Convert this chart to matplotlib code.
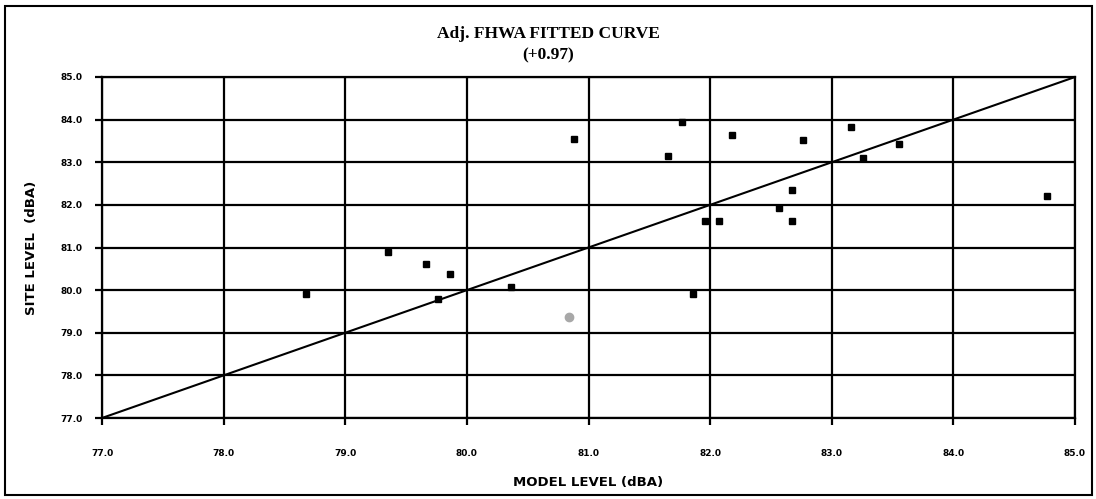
import numpy as np
import matplotlib
matplotlib.use("Agg")
import matplotlib.pyplot as plt
from matplotlib.patches import Rectangle

# data
model_level = [78.68, 79.35, 79.66, 79.76, 79.86, 80.36, 80.88, 81.65, 81.77,
               81.86, 81.96, 82.07, 82.18, 82.57, 82.67, 82.67, 82.76, 83.16,
               83.26, 83.55, 84.77]
site_level = [79.90, 80.90, 80.61, 79.80, 80.39, 80.08, 83.54, 83.14, 83.94,
              79.91, 81.61, 81.61, 83.64, 81.92, 82.35, 81.61, 83.53, 83.82,
              83.11, 83.43, 82.21]
# faint grey point
grey_model = [80.84]
grey_site = [79.38]

fit_line = [77.0, 85.0]
ticks = [77.0, 78.0, 79.0, 80.0, 81.0, 82.0, 83.0, 84.0, 85.0]
tick_labels = ["%.1f" % t for t in ticks]

fig = plt.figure(figsize=(10.96, 4.99), dpi=100)
ax = fig.add_axes([102 / 1096, 1 - 418 / 499, 973 / 1096, 341 / 499])

ax.set_xlim(77, 85)
ax.set_ylim(77, 85)
ax.set_xticks(ticks)
ax.set_yticks(ticks)
ax.set_xticklabels(tick_labels, fontsize=6.5, fontweight="heavy")
ax.set_yticklabels(tick_labels, fontsize=6.5, fontweight="heavy")
ax.tick_params(axis="x", length=5, width=1.6, pad=17, direction="out")
ax.tick_params(axis="y", length=5, width=1.6, pad=9, direction="out")
ax.grid(True, color="black", linewidth=1.6)
ax.set_axisbelow(True)
for s in ax.spines.values():
    s.set_linewidth(1.6)

# y = x line
ax.plot(fit_line, fit_line, color="black", linewidth=1.5, zorder=3)

ax.plot(model_level, site_level, linestyle="none", marker="s", markersize=5,
        color="black", zorder=4)
ax.plot(grey_model, grey_site, linestyle="none", marker="o", markersize=6,
        color="#a8a8a8", zorder=4)

ax.set_xlabel("MODEL LEVEL (dBA)", fontsize=9.5, fontweight="bold", labelpad=13)
ax.set_ylabel("SITE LEVEL  (dBA)", fontsize=9.5, fontweight="bold", labelpad=16)

fig.text(0.5, 1 - 34 / 499, "Adj. FHWA FITTED CURVE", ha="center", va="center",
         fontsize=12.5, fontweight="bold", family="Liberation Serif")
fig.text(0.5, 1 - 55 / 499, "(+0.97)", ha="center", va="center",
         fontsize=12.5, fontweight="bold", family="Liberation Serif")

# outer frame
fig.patches.append(Rectangle((5 / 1096, 4 / 499), 1087 / 1096, 489 / 499,
                             transform=fig.transFigure, fill=False,
                             edgecolor="black", linewidth=1.5))

fig.savefig("out.png", dpi=100)
